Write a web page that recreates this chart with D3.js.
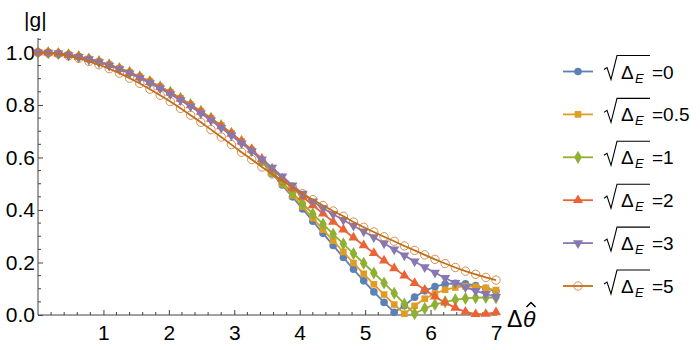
<!DOCTYPE html>
<html><head><meta charset="utf-8">
<script src="https://cdn.jsdelivr.net/npm/d3@7"></script>
<style>
html,body{margin:0;padding:0;background:#fff;}
svg{display:block;font-family:"Liberation Sans",Arial,sans-serif;}
</style></head>
<body><svg id="c" width="700" height="350"></svg>
<script>
// ---- data ----
const xs = [0, 0.156, 0.311, 0.467, 0.622, 0.778, 0.933, 1.089, 1.244, 1.4, 1.556, 1.711, 1.867, 2.022, 2.178, 2.333, 2.489, 2.644, 2.8, 2.956, 3.111, 3.267, 3.422, 3.578, 3.733, 3.889, 4.044, 4.2, 4.356, 4.511, 4.667, 4.822, 4.978, 5.133, 5.289, 5.444, 5.6, 5.756, 5.911, 6.067, 6.222, 6.378, 6.533, 6.689, 6.844, 7.0];
const g0  = [1.000, 0.999, 0.996, 0.991, 0.984, 0.975, 0.965, 0.953, 0.939, 0.924, 0.907, 0.889, 0.869, 0.848, 0.825, 0.801, 0.776, 0.749, 0.721, 0.692, 0.661,
             0.627, 0.583, 0.539, 0.495, 0.450, 0.404, 0.357, 0.311, 0.265, 0.219, 0.174, 0.130, 0.088, 0.048, 0.010, 0.035, 0.068, 0.092, 0.108, 0.118, 0.121, 0.119, 0.112, 0.102, 0.090];
const g05 = [1.000, 0.999, 0.996, 0.991, 0.984, 0.975, 0.965, 0.953, 0.939, 0.924, 0.907, 0.889, 0.869, 0.848, 0.825, 0.801, 0.776, 0.749, 0.721, 0.692, 0.661,
             0.628, 0.585, 0.542, 0.499, 0.456, 0.413, 0.369, 0.325, 0.283, 0.240, 0.198, 0.157, 0.117, 0.078, 0.040, 0.005, 0.035, 0.062, 0.082, 0.096, 0.105, 0.109, 0.108, 0.103, 0.095];
const g1  = [1.000, 0.999, 0.996, 0.991, 0.984, 0.975, 0.965, 0.953, 0.939, 0.924, 0.907, 0.889, 0.869, 0.848, 0.825, 0.801, 0.776, 0.749, 0.721, 0.692, 0.661,
             0.629, 0.588, 0.546, 0.505, 0.465, 0.425, 0.385, 0.346, 0.308, 0.271, 0.234, 0.197, 0.160, 0.122, 0.083, 0.042, 0.005, 0.025, 0.040, 0.050, 0.058, 0.063, 0.066, 0.067, 0.066];
const g2  = [1.000, 0.999, 0.996, 0.991, 0.984, 0.975, 0.964, 0.952, 0.938, 0.923, 0.906, 0.887, 0.867, 0.846, 0.823, 0.799, 0.774, 0.747, 0.719, 0.690, 0.660,
             0.630, 0.595, 0.558, 0.520, 0.484, 0.450, 0.418, 0.386, 0.355, 0.325, 0.295, 0.265, 0.236, 0.207, 0.178, 0.150, 0.122, 0.096, 0.070, 0.047, 0.027, 0.012, 0.003, 0.004, 0.010];
const g3  = [1.000, 0.999, 0.996, 0.990, 0.983, 0.974, 0.963, 0.950, 0.936, 0.920, 0.902, 0.883, 0.863, 0.841, 0.818, 0.794, 0.768, 0.741, 0.713, 0.684, 0.654,
             0.624, 0.593, 0.561, 0.528, 0.494, 0.462, 0.433, 0.407, 0.384, 0.362, 0.340, 0.318, 0.296, 0.273, 0.250, 0.227, 0.204, 0.182, 0.161, 0.141, 0.122, 0.106, 0.092, 0.080, 0.069];
const g5  = [1.000, 0.998, 0.994, 0.987, 0.978, 0.966, 0.953, 0.938, 0.921, 0.902, 0.882, 0.860, 0.837, 0.813, 0.787, 0.761, 0.734, 0.706, 0.678, 0.649,
             0.620, 0.592, 0.564, 0.537, 0.511, 0.486, 0.462, 0.439, 0.417, 0.396, 0.376, 0.354, 0.334, 0.316, 0.298, 0.281, 0.263, 0.246, 0.229, 0.212, 0.196, 0.181, 0.167, 0.155, 0.143, 0.133];
const seriesValues = [g0, g05, g1, g2, g3, g5];
const legendValues = ["0", "0.5", "1", "2", "3", "5"];
const colors = ["#5E81B5", "#E19C24", "#8FB032", "#EB6235", "#8778B3", "#C56E1A"];
const markerTypes = ["circle", "square", "diamond", "triangleUp", "triangleDown", "openCircle"];
const xTickValues = [1, 2, 3, 4, 5, 6, 7];
const yTickValues = [0, 0.2, 0.4, 0.6, 0.8, 1.0];
const yTickLabels = ["0.0", "0.2", "0.4", "0.6", "0.8", "1.0"];

// ---- chart ----
const svg = d3.select("#c");
const x = d3.scaleLinear().domain([0, 7]).range([38, 496]);
const y = d3.scaleLinear().domain([0, 1.055]).range([315, 38]);
const axisColor = "#444";
const fontFam = "Liberation Sans, Arial, sans-serif";

// minor ticks
const xMinor = d3.range(0.2, 7.0001, 0.2).filter(v => Math.abs(v - Math.round(v)) > 1e-6);
const yMinor = d3.range(0.05, 1.0501, 0.05).filter(v => Math.abs(v*5 - Math.round(v*5)) > 1e-6);

const gx = svg.append("g").attr("transform", `translate(0,${y(0)})`)
  .call(d3.axisBottom(x).tickValues(xTickValues).tickFormat(d3.format("d"))
        .tickSizeInner(-5).tickSizeOuter(0).tickPadding(10));
gx.select(".domain").attr("stroke", axisColor).attr("d", `M${x(0)},0H${x(7)+1}`);
gx.selectAll(".tick line").attr("stroke", axisColor);
gx.selectAll(".tick text").attr("font-size", 21).attr("fill", "#000").attr("font-family", fontFam);
gx.selectAll(".minor").data(xMinor).enter().append("line")
  .attr("x1", d => x(d)).attr("x2", d => x(d)).attr("y1", 0).attr("y2", -3)
  .attr("stroke", axisColor);

const gy = svg.append("g").attr("transform", `translate(${x(0)},0)`)
  .call(d3.axisLeft(y).tickValues(yTickValues).tickFormat((d, i) => yTickLabels[i])
        .tickSizeInner(-5).tickSizeOuter(0).tickPadding(3));
gy.select(".domain").attr("stroke", axisColor).attr("d", `M0,${y(0)}V${y(1.055)}`);
gy.selectAll(".tick line").attr("stroke", axisColor);
gy.selectAll(".tick text").attr("font-size", 21).attr("fill", "#000").attr("font-family", fontFam);
gy.selectAll(".minor").data(yMinor).enter().append("line")
  .attr("x1", 0).attr("x2", 3).attr("y1", d => y(d)).attr("y2", d => y(d))
  .attr("stroke", axisColor);

// axis labels
svg.append("text").attr("x", 24).attr("y", 27).attr("font-size", 21).attr("fill", "#000").text("|g|");
const xl = svg.append("g").attr("transform", "translate(507,327)");
xl.append("text").attr("x", 0).attr("y", 0).attr("font-size", 23).attr("fill", "#000").text("Δ");
xl.append("text").attr("x", 16).attr("y", 0).attr("font-size", 23).attr("font-style", "italic").attr("fill", "#000").text("θ");
xl.append("path").attr("d", "M19.5,-20L24,-24.5L28.5,-20").attr("fill", "none")
  .attr("stroke", "#000").attr("stroke-width", 1.5);

// marker drawing
function drawMarker(sel, type, color) {
  if (type === "circle") {
    sel.append("circle").attr("r", 3.8).attr("fill", color);
  } else if (type === "openCircle") {
    sel.append("circle").attr("r", 4.2).attr("fill", "none").attr("stroke", color).attr("stroke-width", 1).attr("opacity", 0.75);
  } else if (type === "square") {
    sel.append("path").attr("d", d3.symbol(d3.symbolSquare, 44)()).attr("fill", color);
  } else if (type === "diamond") {
    sel.append("path").attr("d", d3.symbol(d3.symbolDiamond, 50)()).attr("fill", color);
  } else if (type === "triangleUp") {
    sel.append("path").attr("d", d3.symbol(d3.symbolTriangle, 44)()).attr("fill", color);
  } else if (type === "triangleDown") {
    sel.append("path").attr("d", d3.symbol(d3.symbolTriangle, 44)()).attr("transform", "rotate(180)").attr("fill", color);
  }
}

const line = d3.line().x(d => x(d[0])).y(d => y(d[1]));
const plot = svg.append("g");
seriesValues.forEach((vals, si) => {
  const pts = xs.map((xv, i) => [xv, vals[i]]);
  const g = plot.append("g");
  g.append("path").attr("d", line(pts)).attr("fill", "none")
    .attr("stroke", colors[si]).attr("stroke-width", 1.8);
  g.selectAll(".m").data(pts).enter().append("g")
    .attr("transform", d => `translate(${x(d[0])},${y(d[1])})`)
    .each(function() { drawMarker(d3.select(this), markerTypes[si], colors[si]); });
});

// legend
const legendY0 = 71.5, legendDy = 42.9;
legendValues.forEach((lv, i) => {
  const cy = legendY0 + i * legendDy;
  const lg = svg.append("g").attr("transform", `translate(0,${cy})`);
  lg.append("line").attr("x1", 563).attr("x2", 593).attr("y1", 0).attr("y2", 0)
    .attr("stroke", colors[i]).attr("stroke-width", 1.8);
  const mg = lg.append("g").attr("transform", "translate(578,0)");
  drawMarker(mg, markerTypes[i], colors[i]);
  lg.append("path").attr("d", "M604,-2L607,-4L611,8L617,-16H650")
    .attr("fill", "none").attr("stroke", "#000").attr("stroke-width", 1.1);
  lg.append("text").attr("x", 621).attr("y", 7).attr("font-size", 19).attr("fill", "#000").text("Δ");
  lg.append("text").attr("x", 635).attr("y", 11).attr("font-size", 13).attr("font-style", "italic").attr("fill", "#000").text("E");
  lg.append("text").attr("x", 652).attr("y", 7).attr("font-size", 19).attr("fill", "#000").text("=" + lv);
});
</script>
</body></html>
